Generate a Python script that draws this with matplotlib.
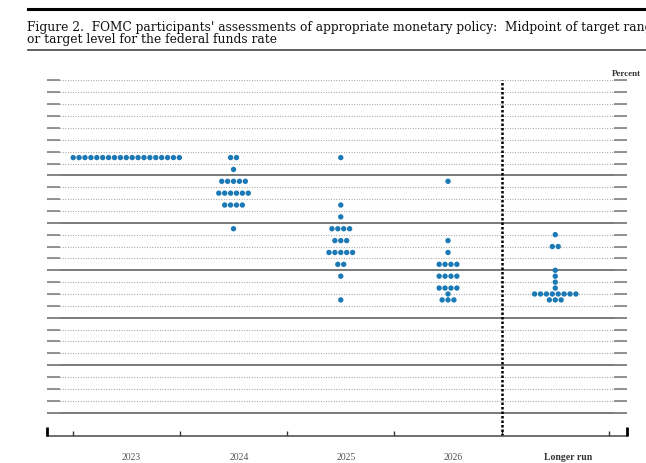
import numpy as np
import matplotlib
matplotlib.use("Agg")
import matplotlib.pyplot as plt
from matplotlib.lines import Line2D

# column labels
columns = ["2023", "2024", "2025", "2026", "Longer run"]

# midpoint levels (percent) and number of participants at each level
dots_2023 = {5.375: 19}
dots_2024 = {5.375: 2, 5.125: 1, 4.875: 5, 4.625: 6, 4.375: 4, 3.875: 1}
dots_2025 = {5.375: 1, 4.375: 1, 4.125: 1, 3.875: 4, 3.625: 3, 3.375: 5,
             3.125: 2, 2.875: 1, 2.375: 1}
dots_2026 = {4.875: 1, 3.625: 1, 3.375: 1, 3.125: 4, 2.875: 4, 2.625: 4,
             2.5: 1, 2.375: 3}
dots_lr = {3.75: 1, 3.5: 2, 3.0: 1, 2.875: 1, 2.75: 1, 2.625: 1, 2.5: 8,
           2.375: 3}
all_dots = [dots_2023, dots_2024, dots_2025, dots_2026, dots_lr]

levels = np.arange(0, 7.01, 0.25)
solid_levels = [0, 1, 2, 3, 4, 5]

dot_color = "#1b79b5"
step = 0.055  # horizontal gap between dots

fig = plt.figure(figsize=(6.46, 4.64), dpi=100)
ax = fig.add_axes([0.0723, 0.0575, 0.8978, 0.7669])
ax.set_xlim(-0.742, 4.666)
ax.set_ylim(-0.5, 7.0)

# horizontal grid
for lv in levels:
    if lv in solid_levels:
        ax.axhline(lv, color="#707070", lw=1.3, zorder=1)
    else:
        ax.axhline(lv, color="#999999", lw=0.8, ls=(0, (0.8, 1.5)), zorder=1)

# y ticks drawn inside on both sides, no labels
ax.set_yticks(levels)
ax.tick_params(axis="y", direction="in", length=9.5, width=1.3, color="#8a8a8a",
               left=True, right=True, labelleft=False, labelright=False)

# dots
for i, d in enumerate(all_dots):
    for lv, n in d.items():
        xs = i + (np.arange(n) - (n - 1) / 2) * step
        ax.scatter(xs, [lv] * n, s=15, color=dot_color, edgecolors="none", zorder=3)

# separator before longer run
ax.axvline(3.5, ymin=0, ymax=1, color="black", lw=1.8, ls=(0, (1, 0.8)), zorder=2)

for s in ["top", "left", "right"]:
    ax.spines[s].set_visible(False)
ax.spines["bottom"].set_color("#555555")
ax.spines["bottom"].set_linewidth(1.2)

# x ticks: labels as major, separators as minor
ax.set_xticks([0.05, 1.05, 2.05, 3.05, 4.12])
ax.set_xticklabels(columns, fontsize=7, family="Liberation Serif", color="#555555")
ax.get_xticklabels()[-1].set_fontweight("bold")
ax.get_xticklabels()[-1].set_color("#333333")
ax.tick_params(axis="x", which="major", length=0, pad=11)
ax.set_xticks(np.arange(-0.5, 4.6, 1.0), minor=True)
ax.tick_params(axis="x", which="minor", direction="in", length=3.6, width=1.0,
               color="#333333")

# tall end ticks
for xe in [-0.742, 4.666]:
    ax.plot([xe, xe], [-0.5, -0.31], color="black", lw=2, clip_on=False,
            solid_capstyle="butt", zorder=4)

ax.text(1.0, 7.08, "Percent", fontsize=6.5, family="Liberation Serif",
        fontweight="bold", color="#333333", ha="center", va="bottom",
        transform=ax.get_yaxis_transform())

# heading with rules (first line runs past the right edge, as in the source page)
fig.add_artist(Line2D([28 / 646, 1], [1 - 10 / 464] * 2, color="black", lw=2.2))
fig.text(27 / 646, 1 - 28 / 464,
         "Figure 2.  FOMC participants' assessments of appropriate monetary policy:  Midpoint of target range",
         fontsize=8.85, family="DejaVu Serif", va="center", ha="left", color="#111111")
fig.text(27 / 646, 1 - 40 / 464, "or target level for the federal funds rate",
         fontsize=8.85, family="DejaVu Serif", va="center", ha="left", color="#111111")
fig.add_artist(Line2D([28 / 646, 1], [1 - 51 / 464] * 2, color="#444444", lw=1.2))

fig.savefig("out.png", dpi=100)
